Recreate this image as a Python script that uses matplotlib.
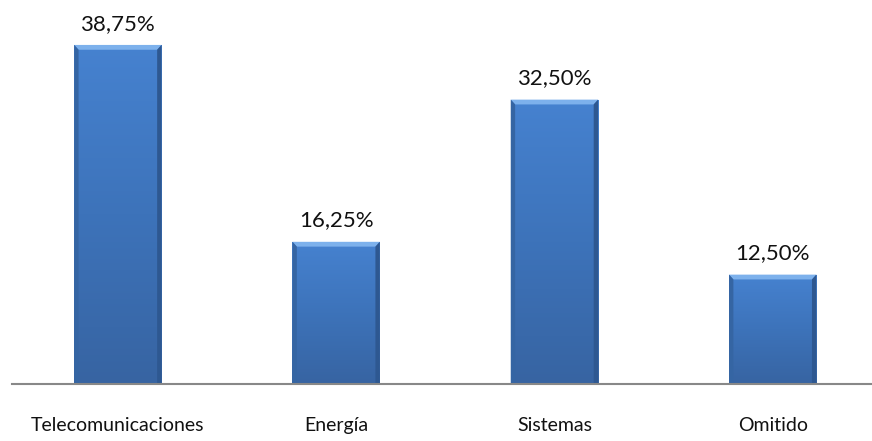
import numpy as np
import matplotlib.pyplot as plt
from matplotlib.colors import LinearSegmentedColormap

categories = ["Telecomunicaciones", "Energía", "Sistemas", "Omitido"]
values = [38.75, 16.25, 32.50, 12.50]
labels = ["38,75%", "16,25%", "32,50%", "12,50%"]

plt.rcParams['font.family'] = ['Lato', 'DejaVu Sans']

fig = plt.figure(figsize=(8.72, 4.41), dpi=100)
ax = fig.add_axes([12/872, 57/441, 1 - 12/872, 384/441])

x = np.arange(len(categories))
width = 0.4
bars = ax.bar(x, values, width=width, color='#3f77c0', edgecolor='none', zorder=2)

# vertical shading inside each bar plus a bevelled rim
body = LinearSegmentedColormap.from_list('body', ['#3764a2', '#3d73ba', '#4682d0'])
grad = np.linspace(0, 1, 256).reshape(-1, 1)
for b in bars:
    x0, w, h = b.get_x(), b.get_width(), b.get_height()
    im = ax.imshow(grad, cmap=body, aspect='auto', origin='lower',
                   extent=[x0, x0 + w, 0, h], zorder=3)
    im.set_clip_path(b)
    # top bevel
    bev = 0.55
    ax.fill([x0, x0 + w, x0 + w - 0.02, x0 + 0.02],
            [h, h, h - bev, h - bev], color='#7db1ec', lw=0, zorder=4)
    # side shading
    ax.fill([x0, x0 + 0.02, x0 + 0.02, x0], [0, 0, h - bev, h],
            color='#3565a3', lw=0, zorder=4)
    ax.fill([x0 + w, x0 + w - 0.02, x0 + w - 0.02, x0 + w], [0, 0, h - bev, h],
            color='#2e5891', lw=0, zorder=4)

for xi, v, lab in zip(x, values, labels):
    ax.annotate(lab, (xi, v), xytext=(0, 11), textcoords='offset points',
                ha='center', va='baseline', fontsize=16, color='#111111')

ax.set_xlim(-0.485, 3.455)
ax.set_ylim(0, 384 / 8.75)
ax.set_xticks(x)
ax.set_xticklabels(categories, fontsize=14, color='#111111')
ax.tick_params(axis='x', length=0, pad=24)
ax.set_yticks([])
for s in ['top', 'right', 'left']:
    ax.spines[s].set_visible(False)
ax.spines['bottom'].set_color('#888888')
ax.spines['bottom'].set_linewidth(1.5)
ax.spines['bottom'].set_zorder(5)

fig.savefig('out.png', dpi=100)
